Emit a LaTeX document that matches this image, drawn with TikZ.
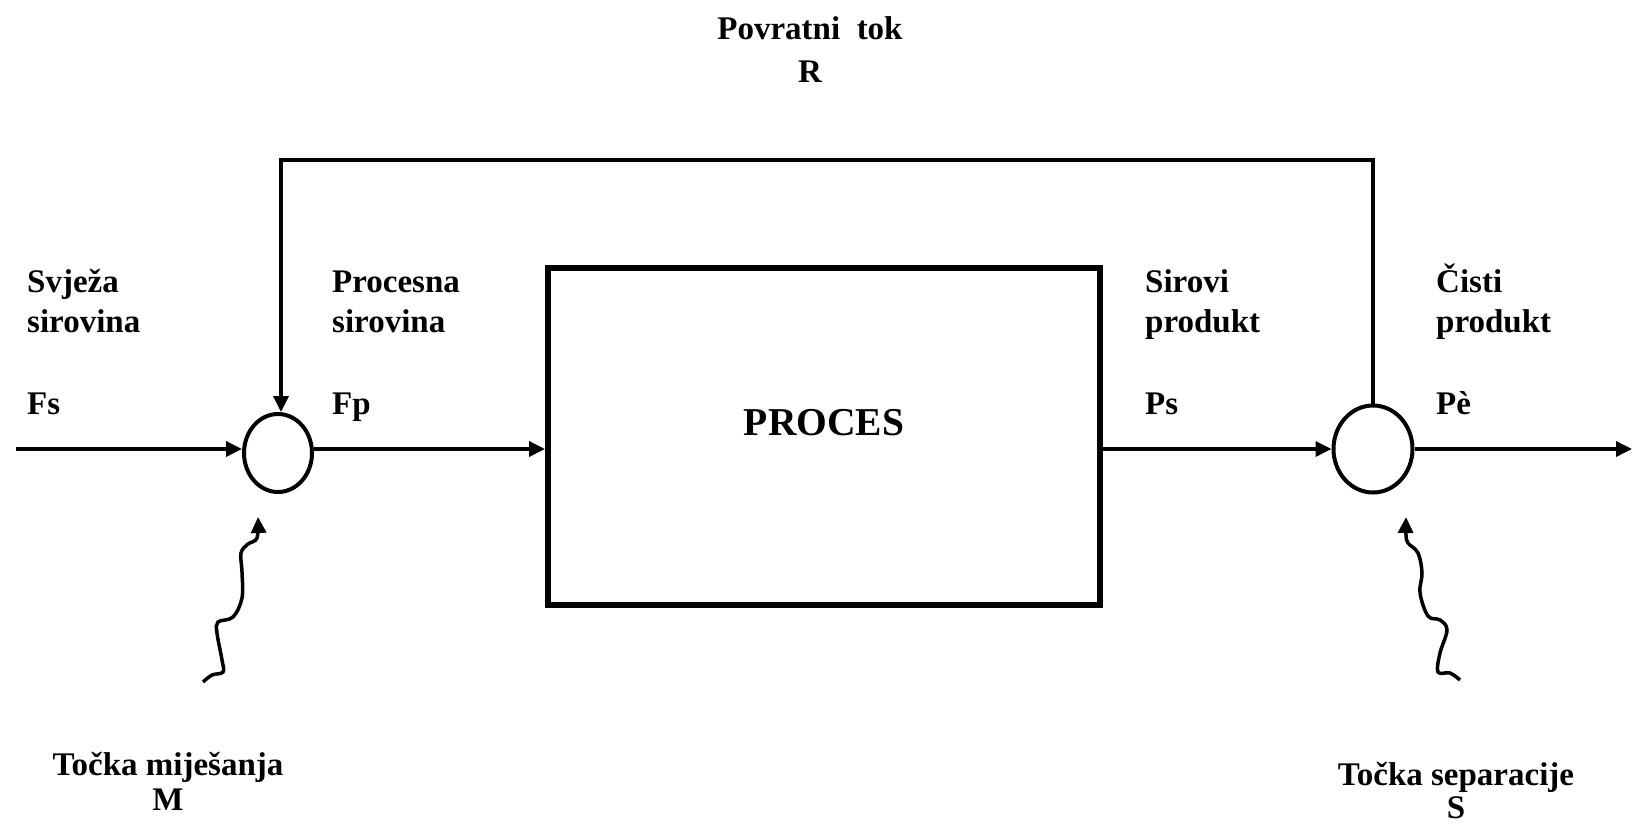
\documentclass[tikz,border=0pt]{standalone}
\usepackage{fontspec}
\setmainfont{Liberation Serif}
\usetikzlibrary{arrows.meta,shapes.geometric}

\tikzset{
  flow/.style={line width=3.5pt,-{Triangle[length=16pt,width=15pt]}},
  junction/.style={draw,ellipse,line width=4pt,inner sep=0pt},
  procbox/.style={draw,rectangle,line width=6pt,minimum width=552pt,minimum height=337pt,
    font=\bfseries\fontsize{39.5}{46}\selectfont,text height=26pt,text depth=28pt},
  lbl/.style={font=\bfseries\fontsize{33}{40}\selectfont,inner sep=0pt},
}

\begin{document}
\begin{tikzpicture}[x=1pt,y=-1pt]
  \useasboundingbox (0,0) rectangle (1633,830);
  % cvorovi
  \node[junction,minimum width=68pt,minimum height=78pt] (M) at (278,453) {};
  \node[junction,minimum width=79pt,minimum height=87pt] (S) at (1373,449) {};
  \node[procbox] (proc) at (824,436) {PROCES};
  \coordinate (fsin) at (16,449);
  \coordinate (pout) at (1632,449);
  \coordinate (rtop) at (800,160);
  % glavni tok
  \draw[flow] (fsin) -- (M.west |- fsin);
  \draw[flow] (M.east |- fsin) -- (proc.west |- fsin);
  \draw[flow] (proc.east |- fsin) -- (S.west);
  \draw[flow] (S.east) -- (pout);
  % povratni tok
  \draw[flow] (S.north) |- (rtop) -| ([xshift=3pt]M.north);
  % valovite strelice
  \coordinate (mwave) at (203,682);
  \coordinate (mtip) at (258,517);
  \coordinate (swave) at (1460,680);
  \coordinate (stip) at (1406,517);
  \draw[flow] plot[smooth,tension=0.6] coordinates {(mwave) (212,675) (223,672) (222,660)
    (217,633) (218,622) (233,617) (242,598) (242,572) (241,553) (248,544) (257,538) (mtip)};
  \draw[flow] plot[smooth,tension=0.6] coordinates {(swave) (1450,673) (1438,672) (1440,653)
    (1447,630) (1440,620) (1428,616) (1420,593) (1422,573) (1418,553) (1408,543) (1406,535) (stip)};
  % oznake (base = zadnji redak)
  \node[lbl,anchor=base,align=center] (rlbl) at (810,82) {Povratni\ \ tok\\[3pt]R};
  \node[lbl,anchor=base west,align=left] (fslbl) at (27,414) {Svježa\\sirovina\\[42pt]Fs};
  \node[lbl,anchor=base west,align=left] (fplbl) at (332,414) {Procesna\\sirovina\\[42pt]Fp};
  \node[lbl,anchor=base west,align=left] (pslbl) at (1145,414) {Sirovi\\produkt\\[42pt]Ps};
  \node[lbl,anchor=base west,align=left] (pclbl) at (1436,414) {Čisti\\produkt\\[42pt]Pè};
  \node[lbl,anchor=base,align=center] (mlbl) at (168,810) {Točka miješanja\\[-5pt]M};
  \node[lbl,anchor=base,align=center] (slbl) at (1456,818) {Točka separacije\\[-7pt]S};
\end{tikzpicture}
\end{document}
